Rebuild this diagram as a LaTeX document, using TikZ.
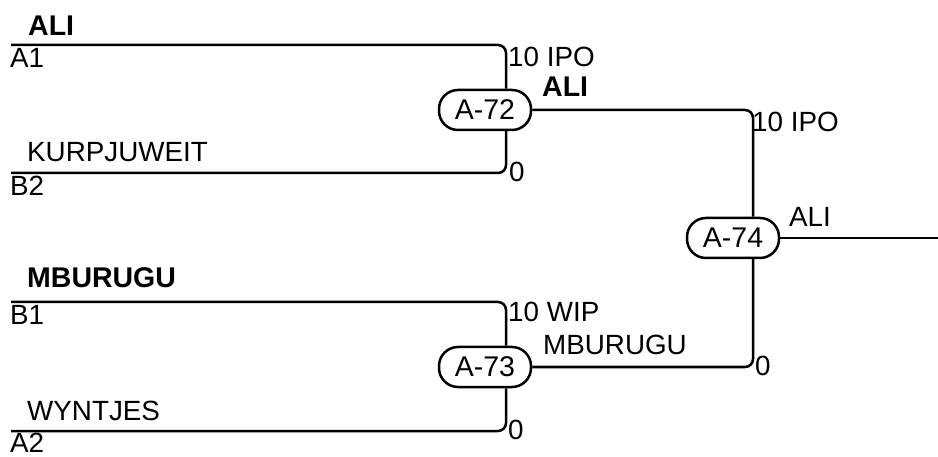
\documentclass[tikz,border=0pt]{standalone}
\usepackage{fontspec}
\setmainfont{Liberation Sans}
\usepackage{tikz}
\usetikzlibrary{positioning,calc}

\begin{document}
\begin{tikzpicture}[x=1pt, y=-1pt, font=\fontsize{27.8}{32}\selectfont,
  match/.style={draw, line width=2.5pt, rounded corners=19pt, minimum width=92pt, minimum height=40pt, inner sep=0pt, font=\fontsize{28.5}{32}\selectfont},
  lbl/.style={anchor=base west, inner sep=0pt},
  win/.style={lbl, font=\fontsize{28.5}{32}\selectfont\bfseries},
  bracket/.style={line width=2.5pt, rounded corners=8pt}]
\useasboundingbox (0,0) rectangle (938,457);

% match nodes
\node[match,name=m72] at (485,110) {A-72};
\node[match,name=m73] at (485,367) {A-73};
\node[match,name=m74] at (733,238) {A-74};

% entry points and joints
\coordinate (a1) at (11,45);
\coordinate (b2) at (11,173);
\coordinate (b1) at (11,302);
\coordinate (a2) at (11,431);
\coordinate (j72) at (506,0);
\coordinate (j73) at (506,0);
\coordinate (j74) at (753,0);
\coordinate (fin) at (938,238);

% players
\node[win,name=pali] at (28,36) {ALI};
\node[lbl,name=pa1] at (10,68) {A1};
\node[lbl,name=pkur] at (27,162) {KURPJUWEIT};
\node[lbl,name=pb2] at (10,196) {B2};
\node[win,name=pmbu] at (27,288) {MBURUGU};
\node[lbl,name=pb1] at (10,325) {B1};
\node[lbl,name=pwyn] at (27,420) {WYNTJES};
\node[lbl,name=pa2] at (10,452) {A2};

% scores and winners
\node[lbl,name=s72a] at (508,67) {10 IPO};
\node[lbl,name=s72b] at (509,182) {0};
\node[win,name=w72] at (542,97) {ALI};
\node[lbl,name=s73a] at (508,322) {10 WIP};
\node[lbl,name=s73b] at (508,439) {0};
\node[lbl,name=w73] at (543,355) {MBURUGU};
\node[lbl,name=s74a] at (752,132) {10 IPO};
\node[lbl,name=s74b] at (755,375) {0};
\node[lbl,name=w74] at (789,227) {ALI};

% connections
\draw[bracket] (a1) -| (m72.north -| j72);
\draw[bracket] (b2) -| (m72.south -| j72);
\draw[bracket] (b1) -| (m73.north -| j73);
\draw[bracket] (a2) -| (m73.south -| j73);
\draw[bracket] (m72.east) -| (m74.north -| j74);
\draw[bracket] (m73.east) -| (m74.south -| j74);
\draw[bracket] (m74.east) -- (fin);

\end{tikzpicture}
\end{document}
